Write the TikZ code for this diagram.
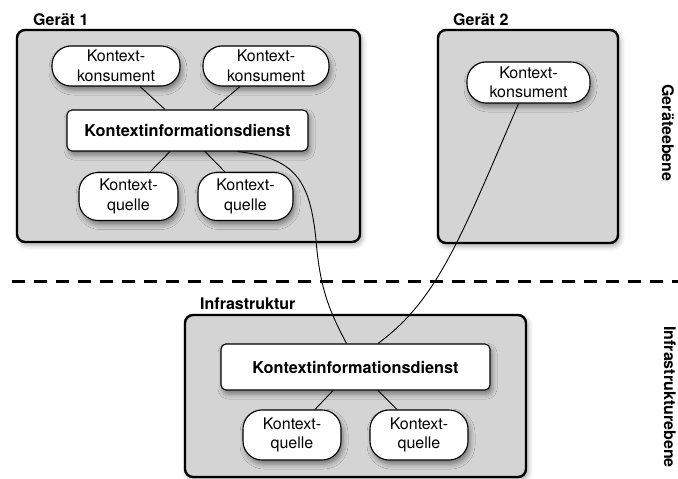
\documentclass[tikz,border=0pt]{standalone}
\usepackage{fontspec}
\setmainfont{TeX Gyre Heros}
\usetikzlibrary{shadows.blur}
\definecolor{panelgray}{HTML}{D4D4D4}
\begin{document}
\begin{tikzpicture}[x=1pt,y=-1pt,
  panel/.style={draw=black, line width=2.4pt, fill=panelgray, rounded corners=8pt,
    blur shadow={shadow xshift=2pt, shadow yshift=-3pt, shadow blur radius=5pt, shadow opacity=35}},
  bubble/.style={draw=black, line width=1.1pt, fill=white, rounded corners=19pt,
    inner sep=0pt, align=center, font=\fontsize{16}{19.5}\selectfont,
    blur shadow={shadow xshift=2pt, shadow yshift=-4pt, shadow blur radius=5pt, shadow opacity=45}},
  service/.style={draw=black, line width=1.1pt, fill=white, rounded corners=5pt,
    inner sep=0pt, font=\fontsize{16.3}{19.5}\selectfont\bfseries,
    blur shadow={shadow xshift=2pt, shadow yshift=-4pt, shadow blur radius=5pt, shadow opacity=45}},
  grouplabel/.style={anchor=base west, inner sep=0pt, font=\fontsize{16}{19}\selectfont\bfseries},
  levellabel/.style={rotate=-90, inner sep=0pt, font=\fontsize{16}{19}\selectfont\bfseries},
  link/.style={draw=black, line width=0.9pt},
  divider/.style={line width=3pt, dash pattern=on 13pt off 9pt}]
\useasboundingbox (0,0) rectangle (678,479);

% device and infrastructure panels
\node[panel, minimum width=343pt, minimum height=212pt] (dev1) at (188.5,136) {};
\node[panel, minimum width=180pt, minimum height=213pt] (dev2) at (528,136.5) {};
\node[panel, minimum width=341pt, minimum height=162pt] (infra) at (355.5,396) {};

\node[grouplabel] (dev1lbl) at (33,25) {Gerät 1};
\node[grouplabel] (dev2lbl) at (453,25) {Gerät 2};
\node[grouplabel] (infralbl) at (200,309) {Infrastruktur};

% level separator and level names
\coordinate (divL) at (12,281);
\coordinate (divR) at (678,281);
\draw[divider] (divL) -- (divR);
\node[levellabel] (lvl1) at (668,133) {Geräteebene};
\node[levellabel] (lvl2) at (670,397) {Infrastrukturebene};

% device 1
\node[bubble, minimum width=128pt, minimum height=40pt] (k1) at (116,66) {Kontext-\\konsument};
\node[bubble, minimum width=126pt, minimum height=40pt] (k2) at (266,66) {Kontext-\\konsument};
\node[service, minimum width=241pt, minimum height=41pt] (d1) at (187.5,130.5) {Kontextinformationsdienst};
\node[bubble, minimum width=99pt, minimum height=48pt] (q1) at (128.5,196.5) {Kontext-\\quelle};
\node[bubble, minimum width=95pt, minimum height=48pt] (q2) at (245.5,196.5) {Kontext-\\quelle};

% device 2
\node[bubble, minimum width=123pt, minimum height=41pt] (k3) at (528.5,82.5) {Kontext-\\konsument};

% infrastructure
\node[service, minimum width=269pt, minimum height=46pt] (d2) at (355.5,367) {Kontextinformationsdienst};
\node[bubble, minimum width=98pt, minimum height=50pt] (q3) at (292,435) {Kontext-\\quelle};
\node[bubble, minimum width=98pt, minimum height=50pt] (q4) at (419,435) {Kontext-\\quelle};

% local connections
\draw[link] ([xshift=24pt]k1.south) -- ([xshift=-22.5pt]d1.north);
\draw[link] ([xshift=-26pt]k2.south) -- ([xshift=25.5pt]d1.north);
\draw[link] ([xshift=-17.5pt]d1.south) -- ([xshift=21.5pt]q1.north);
\draw[link] ([xshift=17.5pt]d1.south) -- ([xshift=-20.5pt]q2.north);
\draw[link] ([xshift=-22.5pt]d2.south) -- ([xshift=23pt]q3.north);
\draw[link] ([xshift=22.5pt]d2.south) -- ([xshift=-22pt]q4.north);

% connections across the levels
\draw[link] ([xshift=50pt]d1.south) .. controls (295,158) and (310,180) .. (316,240)
  .. controls (320,290) and (330,312) .. ([xshift=-9pt]d2.north);
\draw[link] ([xshift=-10pt]k3.south) .. controls (460,240) and (437,300) .. ([xshift=22.5pt]d2.north);
\end{tikzpicture}
\end{document}
